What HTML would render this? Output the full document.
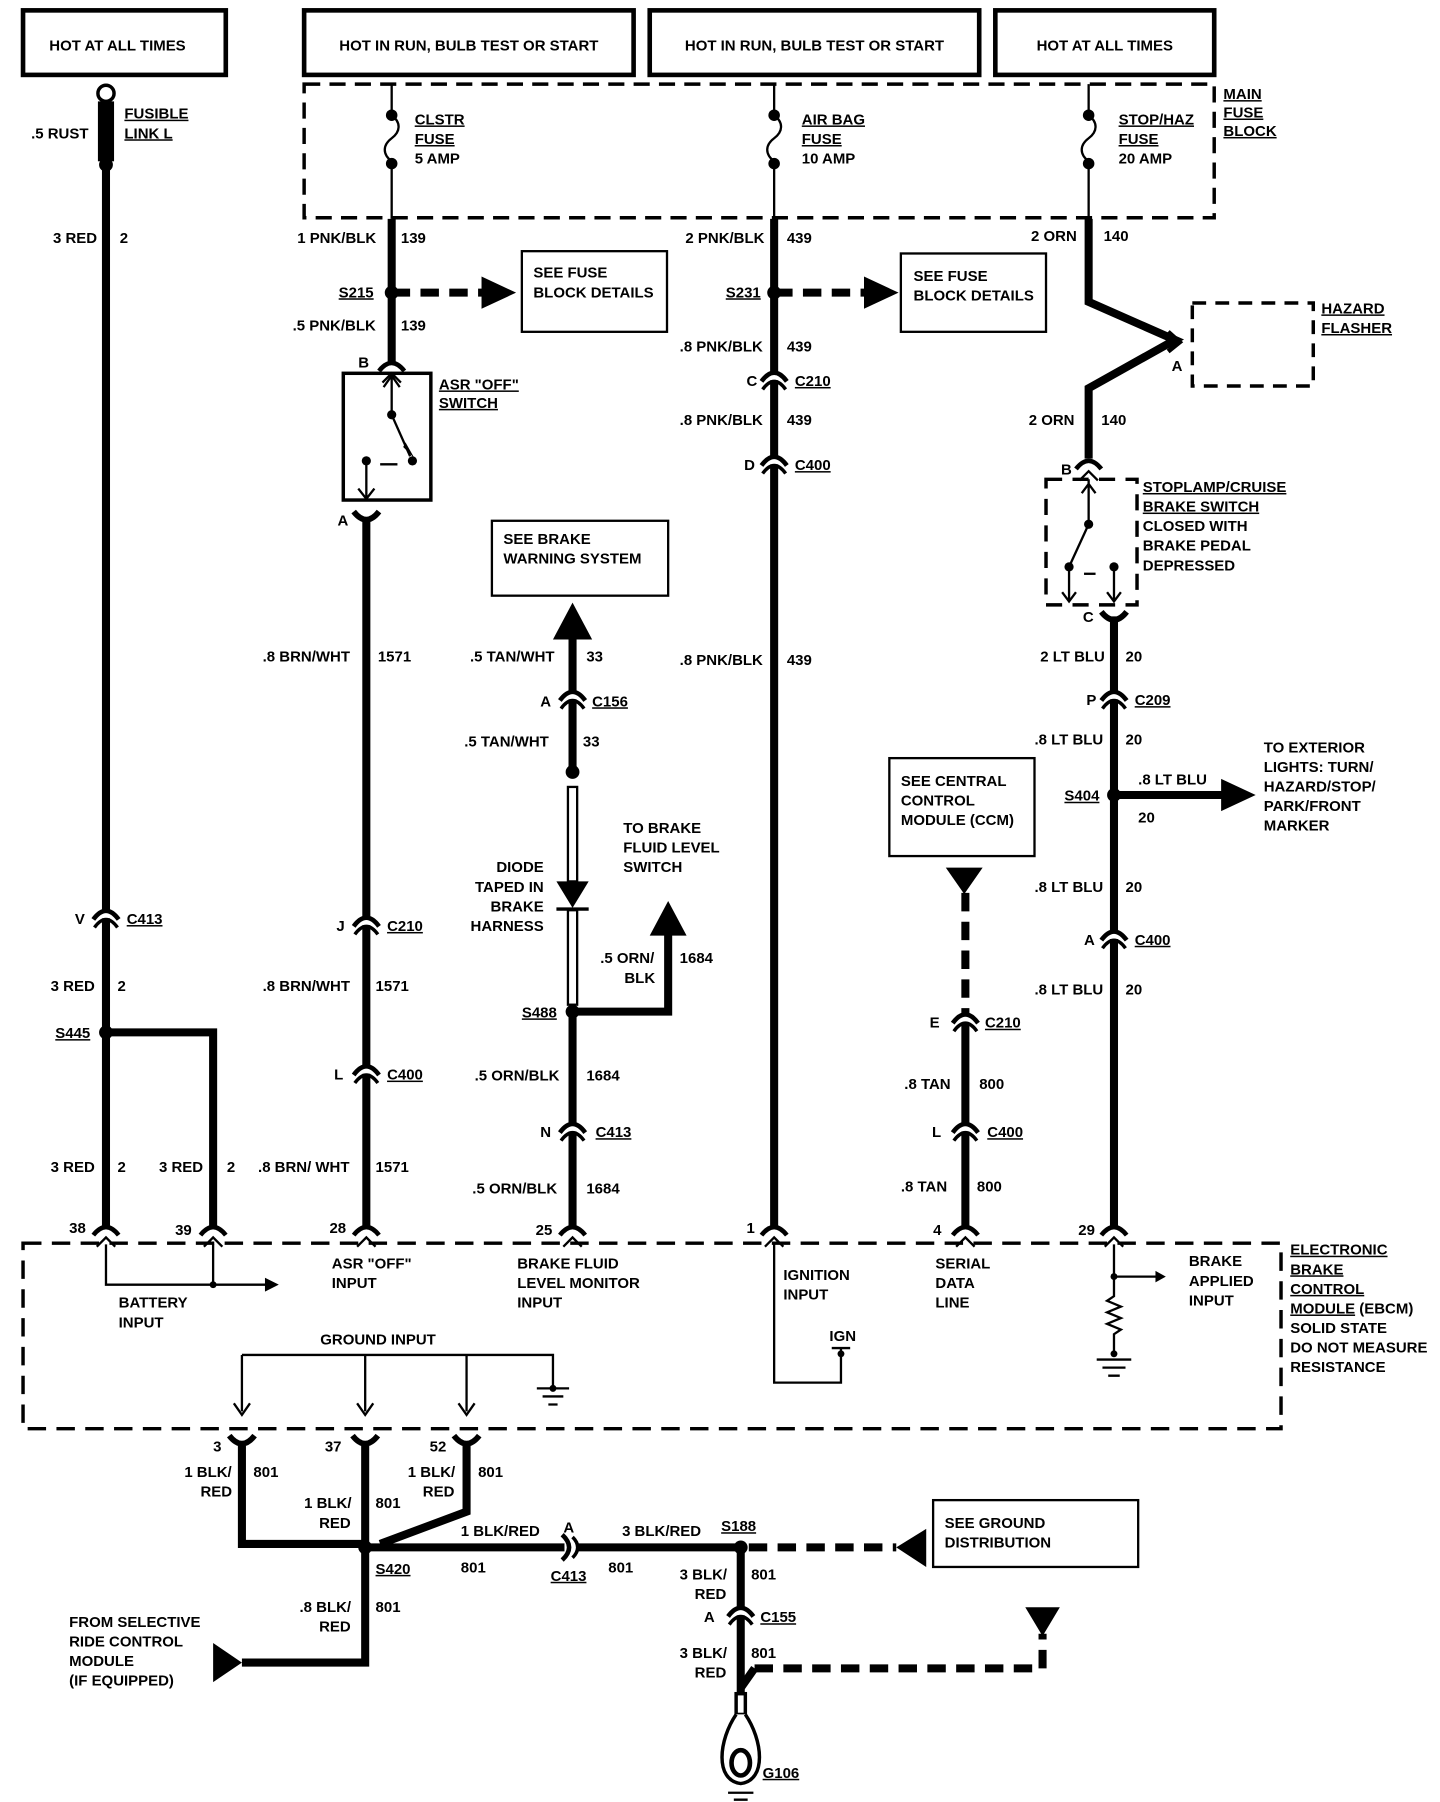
<!DOCTYPE html>
<html><head><meta charset="utf-8"><style>
html,body{margin:0;padding:0;background:#fff;}
svg{display:block;}
text{font-family:"Liberation Sans",sans-serif;font-weight:bold;font-size:13px;fill:#000;}
</style></head><body>
<svg width="1440" height="1802" viewBox="0 0 1250 1564" preserveAspectRatio="none" xmlns="http://www.w3.org/2000/svg">
<defs>
<g id="c">
<rect x="-5" y="-5" width="10" height="5" fill="#fff"/>
<path d="M-11,1 Q0,-14 11,1" fill="none" stroke="#000" stroke-width="4"/>
<path d="M-10,8 Q0,-6 10,8" fill="none" stroke="#000" stroke-width="3"/>
</g>
<g id="pin">
<path d="M-11,4 Q0,-10 11,4" fill="none" stroke="#000" stroke-width="4"/>
<path d="M-8,14 L0,6 L8,14" fill="none" stroke="#000" stroke-width="2"/>
</g>
<g id="cup">
<path d="M-11,-6 Q0,8 11,-6" fill="none" stroke="#000" stroke-width="5"/>
</g>
</defs>
<g fill="none" stroke="#000">
<!-- header boxes -->
<rect x="20" y="9" width="176" height="56" stroke-width="4"/>
<rect x="264" y="9" width="286" height="56" stroke-width="4"/>
<rect x="564" y="9" width="286" height="56" stroke-width="4"/>
<rect x="864" y="9" width="190" height="56" stroke-width="4"/>
<!-- main fuse block -->
<rect x="264" y="73" width="790" height="116" stroke-width="3" stroke-dasharray="14,8"/>
<!-- fuses -->
<path d="M340,73 V100 c8,6 8,14 0,20 c-8,6 -8,14 0,20 V190" stroke-width="2"/>
<path d="M672,73 V100 c8,6 8,14 0,20 c-8,6 -8,14 0,20 V190" stroke-width="2"/>
<path d="M945,73 V100 c8,6 8,14 0,20 c-8,6 -8,14 0,20 V190" stroke-width="2"/>
</g>
<g fill="#000">
<circle cx="340" cy="100" r="5"/><circle cx="340" cy="142" r="5"/>
<circle cx="672" cy="100" r="5"/><circle cx="672" cy="142" r="5"/>
<circle cx="945" cy="100" r="5"/><circle cx="945" cy="142" r="5"/>
</g>
<!-- wires -->
<g fill="none" stroke="#000" stroke-width="7">
<path d="M92,140 V1064"/>
<path d="M92,896 H185 V1064"/>
<path d="M340,190 V316"/>
<path d="M318,452 V1064"/>
<path d="M497,555 V670"/>
<path d="M497,878 V1064"/>
<path d="M497,878 H580 V810"/>
<path d="M672,190 V1064"/>
<path d="M838,888 V1064"/>
<path d="M945,190 V262 L1020,295 L945,337 V398"/>
<path d="M967,535 V1064"/>
<path d="M967,690 H1062"/>
<path d="M210,1255 V1340 H317"/>
<path d="M317,1255 V1443 H210"/>
<path d="M405,1255 V1312 L330,1340"/>
<path d="M317,1343 H490"/>
<path d="M500,1343 H643"/>
<path d="M643,1343 V1470"/>
<path d="M643,1465 L655,1448"/>
</g>
<g fill="none" stroke="#000" stroke-width="7" stroke-dasharray="16,9">
<path d="M340,254 H420"/>
<path d="M672,254 H752"/>
<path d="M838,775 V880"/>
<path d="M655,1448 H905 V1418"/>
<path d="M650,1343 H778"/>
</g>
<!-- fusible link -->
<circle cx="92" cy="81" r="7" fill="#fff" stroke="#000" stroke-width="3"/>
<rect x="85" y="88" width="14" height="52" fill="#000"/>
<circle cx="92" cy="143" r="6" fill="#000"/>
<!-- arrowheads -->
<g fill="#000">
<polygon points="418,240 448,254 418,268"/>
<polygon points="750,240 780,254 750,268"/>
<polygon points="480,555 497,523 514,555"/>
<polygon points="564,812 580,782 596,812"/>
<polygon points="1060,676 1090,690 1060,704"/>
<polygon points="821,753 853,753 837,776"/>
<polygon points="804,1327 804,1360 778,1343"/>
<polygon points="890,1395 920,1395 905,1420"/>
<polygon points="185,1426 185,1460 210,1443"/>
<polygon points="483,765 511,765 497,788"/>
</g>
<!-- splices -->
<g fill="#000">
<circle cx="92" cy="896" r="6"/><circle cx="340" cy="254" r="6"/><circle cx="672" cy="254" r="6"/>
<circle cx="497" cy="878" r="6"/><circle cx="497" cy="670" r="6"/>
<circle cx="967" cy="690" r="6"/><circle cx="317" cy="1343" r="6"/><circle cx="643" cy="1343" r="6"/>
</g>
<!-- diode harness -->
<rect x="493" y="683" width="8" height="82" fill="#fff" stroke="#000" stroke-width="2"/>
<rect x="493" y="790" width="8" height="82" fill="#fff" stroke="#000" stroke-width="2"/>
<line x1="483" y1="789" x2="511" y2="789" stroke="#000" stroke-width="3"/>
<!-- see boxes -->
<g fill="none" stroke="#000" stroke-width="2">
<rect x="453" y="218" width="126" height="70"/>
<rect x="782" y="220" width="126" height="68"/>
<rect x="427" y="452" width="153" height="65"/>
<rect x="772" y="658" width="126" height="85"/>
<rect x="810" y="1302" width="178" height="58"/>
<rect x="1035" y="263" width="105" height="72" stroke-width="3" stroke-dasharray="12,8"/>
<rect x="20" y="1079" width="1092" height="161" stroke-width="3" stroke-dasharray="16,9"/>
<rect x="908" y="416" width="79" height="109" stroke-width="3" stroke-dasharray="14,9"/>
</g>
<!-- ASR switch -->
<rect x="298" y="324" width="76" height="110" fill="none" stroke="#000" stroke-width="3"/>
<g stroke="#000" stroke-width="2" fill="none">
<path d="M340,324 V360 M333,336 L340,326 L347,336"/>
<path d="M340,360 L356,396"/>
<path d="M318,400 V432 M311,424 L318,433 L325,424"/>
<path d="M330,403 H345"/>
<path d="M945,416 V455 M939,428 L945,420 L951,428"/>
<path d="M945,455 L928,492"/>
<path d="M928,492 V522 M922,514 L928,522 L934,514"/>
<path d="M967,492 V522 M961,514 L967,522 L973,514"/>
<path d="M941,498 H951"/>
</g>
<g fill="#000"><circle cx="340" cy="360" r="4"/><circle cx="358" cy="400" r="4"/><circle cx="318" cy="400" r="4"/>
<circle cx="945" cy="455" r="4"/><circle cx="928" cy="492" r="4"/><circle cx="967" cy="492" r="4"/></g>
<polygon points="350,388 360,398 352,384" fill="#000"/>
<!-- inner EBCM lines -->
<g stroke="#000" stroke-width="2" fill="none">
<path d="M92,1080 V1115 H232"/><path d="M185,1080 V1115"/>
<path d="M672,1080 V1200 H730 V1170"/><path d="M722,1170 H738"/>
<path d="M967,1080 V1125 l-6,4 12,5 -12,5 12,5 -12,5 12,5 -6,4 V1175"/>
<path d="M967,1108 H1005"/>
<path d="M210,1176 H480 V1205 M210,1176 V1225 M317,1176 V1225 M405,1176 V1225"/>
<path d="M203,1218 L210,1228 L217,1218 M310,1218 L317,1228 L324,1218 M398,1218 L405,1228 L412,1218"/>
<path d="M466,1205 H494 M471,1212 H489 M476,1219 H484"/>
<path d="M952,1180 H982 M957,1187 H977 M962,1194 H972"/>
</g>
<g fill="#000"><polygon points="230,1109 242,1115 230,1121"/><polygon points="1003,1103 1012,1108 1003,1113"/>
<circle cx="185" cy="1115" r="3"/><circle cx="967" cy="1108" r="3"/><circle cx="730" cy="1175" r="3"/><circle cx="480" cy="1205" r="3"/><circle cx="967" cy="1175" r="3"/></g>
<!-- connectors -->
<use href="#c" x="92" y="797"/><use href="#c" x="318" y="803"/><use href="#c" x="318" y="932"/>
<use href="#c" x="497" y="607"/><use href="#c" x="497" y="982"/>
<use href="#c" x="672" y="330"/><use href="#c" x="672" y="403"/>
<use href="#c" x="838" y="887"/><use href="#c" x="838" y="982"/>
<use href="#c" x="967" y="607"/><use href="#c" x="967" y="815"/>
<use href="#c" x="643" y="1402"/>
<use href="#pin" x="92" y="1068"/><use href="#pin" x="185" y="1068"/><use href="#pin" x="318" y="1068"/>
<use href="#pin" x="497" y="1068"/><use href="#pin" x="672" y="1068"/><use href="#pin" x="838" y="1068"/><use href="#pin" x="967" y="1068"/>
<use href="#pin" x="340" y="318"/><use href="#pin" x="945" y="403"/>
<use href="#cup" x="318" y="450"/><use href="#cup" x="967" y="537"/>
<use href="#cup" x="210" y="1252"/><use href="#cup" x="317" y="1252"/><use href="#cup" x="405" y="1252"/>
<g fill="none" stroke="#000" stroke-width="4"><path d="M488,1332 Q500,1343 488,1354"/><path d="M497,1334 Q506,1343 497,1352" stroke-width="3"/>
<path d="M1014,288 L1024,297 L1014,305"/></g>
<!-- ground eyelet -->
<rect x="639" y="1470" width="8" height="18" fill="#fff" stroke="#000" stroke-width="3"/>
<path d="M639,1488 C624,1510 620,1545 643,1548 C666,1545 662,1510 647,1488" fill="#fff" stroke="#000" stroke-width="3"/>
<ellipse cx="643" cy="1530" rx="8" ry="11" fill="none" stroke="#000" stroke-width="4"/>
<g stroke="#000" stroke-width="2"><path d="M632,1556 H654 M637,1562 H649"/></g>
<!-- texts -->
<g text-anchor="middle">
<text x="102" y="44">HOT AT ALL TIMES</text>
<text x="407" y="44">HOT IN RUN, BULB TEST OR START</text>
<text x="707" y="44">HOT IN RUN, BULB TEST OR START</text>
<text x="959" y="44">HOT AT ALL TIMES</text>
</g>
<text x="1062" y="86" text-decoration="underline">MAIN</text>
<text x="1062" y="102" text-decoration="underline">FUSE</text>
<text x="1062" y="118" text-decoration="underline">BLOCK</text>
<text x="27" y="120">.5 RUST</text>
<text x="108" y="103" text-decoration="underline">FUSIBLE</text>
<text x="108" y="120" text-decoration="underline">LINK L</text>
<text x="360" y="108" text-decoration="underline">CLSTR</text><text x="360" y="125" text-decoration="underline">FUSE</text><text x="360" y="142">5 AMP</text>
<text x="696" y="108" text-decoration="underline">AIR BAG</text><text x="696" y="125" text-decoration="underline">FUSE</text><text x="696" y="142">10 AMP</text>
<text x="971" y="108" text-decoration="underline">STOP/HAZ</text><text x="971" y="125" text-decoration="underline">FUSE</text><text x="971" y="142">20 AMP</text>
<text x="46" y="211">3 RED</text><text x="104" y="211">2</text>
<text x="258" y="211">1 PNK/BLK</text><text x="348" y="211">139</text>
<text x="595" y="211">2 PNK/BLK</text><text x="683" y="211">439</text>
<text x="895" y="209">2 ORN</text><text x="958" y="209">140</text>
<text x="294" y="258" text-decoration="underline">S215</text>
<text x="630" y="258" text-decoration="underline">S231</text>
<text x="463" y="241">SEE FUSE</text><text x="463" y="258">BLOCK DETAILS</text>
<text x="793" y="244">SEE FUSE</text><text x="793" y="261">BLOCK DETAILS</text>
<text x="254" y="287">.5 PNK/BLK</text><text x="348" y="287">139</text>
<text x="590" y="305">.8 PNK/BLK</text><text x="683" y="305">439</text>
<text x="648" y="335">C</text><text x="690" y="335" text-decoration="underline">C210</text>
<text x="590" y="369">.8 PNK/BLK</text><text x="683" y="369">439</text>
<text x="646" y="408">D</text><text x="690" y="408" text-decoration="underline">C400</text>
<text x="590" y="577">.8 PNK/BLK</text><text x="683" y="577">439</text>
<text x="311" y="319">B</text>
<text x="381" y="338" text-decoration="underline">ASR "OFF"</text><text x="381" y="354" text-decoration="underline">SWITCH</text>
<text x="293" y="456">A</text>
<text x="1147" y="272" text-decoration="underline">HAZARD</text><text x="1147" y="289" text-decoration="underline">FLASHER</text>
<text x="1017" y="322">A</text>
<text x="893" y="369">2 ORN</text><text x="956" y="369">140</text>
<text x="921" y="412">B</text>
<text x="992" y="427" text-decoration="underline">STOPLAMP/CRUISE</text><text x="992" y="444" text-decoration="underline">BRAKE SWITCH</text>
<text x="992" y="461">CLOSED WITH</text><text x="992" y="478">BRAKE PEDAL</text><text x="992" y="495">DEPRESSED</text>
<text x="940" y="540">C</text>
<text x="437" y="472">SEE BRAKE</text><text x="437" y="489">WARNING SYSTEM</text>
<text x="228" y="574">.8 BRN/WHT</text><text x="328" y="574">1571</text>
<text x="408" y="574">.5 TAN/WHT</text><text x="509" y="574">33</text>
<text x="903" y="574">2 LT BLU</text><text x="977" y="574">20</text>
<text x="469" y="613">A</text><text x="514" y="613" text-decoration="underline">C156</text>
<text x="943" y="612">P</text><text x="985" y="612" text-decoration="underline">C209</text>
<text x="403" y="648">.5 TAN/WHT</text><text x="506" y="648">33</text>
<text x="898" y="646">.8 LT BLU</text><text x="977" y="646">20</text>
<text x="1097" y="653">TO EXTERIOR</text><text x="1097" y="670">LIGHTS:  TURN/</text><text x="1097" y="687">HAZARD/STOP/</text><text x="1097" y="704">PARK/FRONT</text><text x="1097" y="721">MARKER</text>
<text x="924" y="695" text-decoration="underline">S404</text>
<text x="988" y="681">.8 LT BLU</text><text x="988" y="714">20</text>
<text x="782" y="682">SEE CENTRAL</text><text x="782" y="699">CONTROL</text><text x="782" y="716">MODULE (CCM)</text>
<text x="541" y="723">TO BRAKE</text><text x="541" y="740">FLUID LEVEL</text><text x="541" y="757">SWITCH</text>
<g text-anchor="end"><text x="472" y="757">DIODE</text><text x="472" y="774">TAPED IN</text><text x="472" y="791">BRAKE</text><text x="472" y="808">HARNESS</text></g>
<text x="898" y="774">.8 LT BLU</text><text x="977" y="774">20</text>
<text x="65" y="802">V</text><text x="110" y="802" text-decoration="underline">C413</text>
<text x="292" y="808">J</text><text x="336" y="808" text-decoration="underline">C210</text>
<text x="941" y="820">A</text><text x="985" y="820" text-decoration="underline">C400</text>
<text x="521" y="836">.5 ORN/</text><text x="542" y="853">BLK</text><text x="590" y="836">1684</text>
<text x="44" y="860">3 RED</text><text x="102" y="860">2</text>
<text x="228" y="860">.8 BRN/WHT</text><text x="326" y="860">1571</text>
<text x="898" y="863">.8 LT BLU</text><text x="977" y="863">20</text>
<text x="453" y="883" text-decoration="underline">S488</text>
<text x="807" y="892">E</text><text x="855" y="892" text-decoration="underline">C210</text>
<text x="48" y="901" text-decoration="underline">S445</text>
<text x="290" y="937">L</text><text x="336" y="937" text-decoration="underline">C400</text>
<text x="412" y="938">.5 ORN/BLK</text><text x="509" y="938">1684</text>
<text x="785" y="945">.8 TAN</text><text x="850" y="945">800</text>
<text x="469" y="987">N</text><text x="517" y="987" text-decoration="underline">C413</text>
<text x="809" y="987">L</text><text x="857" y="987" text-decoration="underline">C400</text>
<text x="44" y="1017">3 RED</text><text x="102" y="1017">2</text>
<text x="138" y="1017">3 RED</text><text x="197" y="1017">2</text>
<text x="224" y="1017">.8 BRN/ WHT</text><text x="326" y="1017">1571</text>
<text x="410" y="1036">.5 ORN/BLK</text><text x="509" y="1036">1684</text>
<text x="782" y="1034">.8 TAN</text><text x="848" y="1034">800</text>
<text x="60" y="1070">38</text><text x="152" y="1072">39</text><text x="286" y="1070">28</text><text x="465" y="1072">25</text>
<text x="648" y="1070">1</text><text x="810" y="1072">4</text><text x="936" y="1072">29</text>
<text x="288" y="1101">ASR "OFF"</text><text x="288" y="1118">INPUT</text>
<text x="449" y="1101">BRAKE FLUID</text><text x="449" y="1118">LEVEL MONITOR</text><text x="449" y="1135">INPUT</text>
<text x="680" y="1111">IGNITION</text><text x="680" y="1128">INPUT</text>
<text x="812" y="1101">SERIAL</text><text x="812" y="1118">DATA</text><text x="812" y="1135">LINE</text>
<text x="1032" y="1099">BRAKE</text><text x="1032" y="1116">APPLIED</text><text x="1032" y="1133">INPUT</text>
<text x="1120" y="1089" text-decoration="underline">ELECTRONIC</text><text x="1120" y="1106" text-decoration="underline">BRAKE</text>
<text x="1120" y="1123" text-decoration="underline">CONTROL</text><text x="1120" y="1140"><tspan text-decoration="underline">MODULE</tspan> (EBCM)</text>
<text x="1120" y="1157">SOLID STATE</text><text x="1120" y="1174">DO NOT MEASURE</text><text x="1120" y="1191">RESISTANCE</text>
<text x="103" y="1135">BATTERY</text><text x="103" y="1152">INPUT</text>
<text x="720" y="1164">IGN</text>
<text x="278" y="1167">GROUND INPUT</text>
<text x="185" y="1260">3</text><text x="282" y="1260">37</text><text x="373" y="1260">52</text>
<text x="160" y="1282">1 BLK/</text><text x="174" y="1299">RED</text><text x="220" y="1282">801</text>
<text x="354" y="1282">1 BLK/</text><text x="367" y="1299">RED</text><text x="415" y="1282">801</text>
<text x="264" y="1309">1 BLK/</text><text x="277" y="1326">RED</text><text x="326" y="1309">801</text>
<text x="400" y="1333">1 BLK/RED</text><text x="400" y="1365">801</text>
<text x="489" y="1330">A</text><text x="478" y="1372" text-decoration="underline">C413</text>
<text x="540" y="1333">3 BLK/RED</text><text x="528" y="1365">801</text>
<text x="626" y="1329" text-decoration="underline">S188</text>
<text x="326" y="1366" text-decoration="underline">S420</text>
<text x="820" y="1326">SEE GROUND</text><text x="820" y="1343">DISTRIBUTION</text>
<text x="260" y="1399">.8 BLK/</text><text x="277" y="1416">RED</text><text x="326" y="1399">801</text>
<text x="590" y="1371">3 BLK/</text><text x="603" y="1388">RED</text><text x="652" y="1371">801</text>
<text x="611" y="1408">A</text><text x="660" y="1408" text-decoration="underline">C155</text>
<text x="590" y="1439">3 BLK/</text><text x="603" y="1456">RED</text><text x="652" y="1439">801</text>
<text x="60" y="1412">FROM SELECTIVE</text><text x="60" y="1429">RIDE CONTROL</text><text x="60" y="1446">MODULE</text><text x="60" y="1463">(IF EQUIPPED)</text>
<text x="662" y="1543" text-decoration="underline">G106</text>
</svg>
</body></html>
